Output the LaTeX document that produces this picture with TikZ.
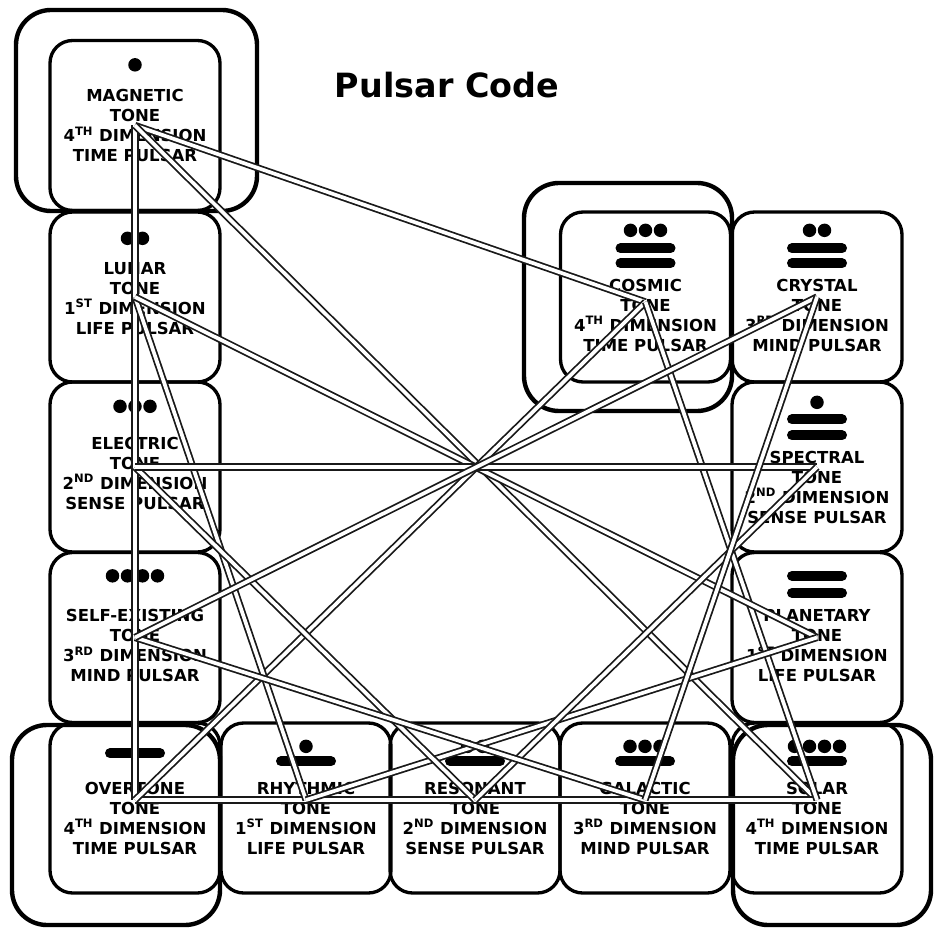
\documentclass[tikz,border=0pt]{standalone}
\usepackage{fontspec}
\setmainfont{DejaVu Sans}
\usepackage{tikz}
\tikzset{
    % One tone: a rounded square
    tonebox/.style={
        draw=black,
        line width=1.9pt,
        rounded corners=0.45cm,
        minimum width=3.4cm,
        minimum height=3.4cm,
        inner sep=0pt
    },
    % The large frame round the tones of the fourth dimension
    timeframe/.style={
        draw=black,
        line width=2.5pt,
        rounded corners=0.7cm
    },
    % The four lines of text of a tone
    tonetext/.style={
        align=center,
        inner sep=0pt,
        font=\fontsize{9.4}{11.4}\selectfont\bfseries
    },
    % A bar of the number
    numbar/.style={
        line width=0.2cm,
        line cap=round
    },
    % The double line between two tones of the same dimension
    pulsar/.style={
        draw=black!90,
        line width=1pt,
        double=white,
        double distance=2.1pt
    }
}

% dots of the number: box, how many, distance below the top
\newcommand{\tonedots}[3]{
    \foreach \d in {1,...,#2}
        \fill ([shift={({(\d-(#2+1)/2)*15},#3)}]#1.north) circle (0.135cm);
}
% one bar of the number: box, distance below the top
\newcommand{\tonebar}[2]{
    \draw[numbar] ([shift={(-25,#2)}]#1.north) -- ([shift={(25,#2)}]#1.north);
}

\begin{document}
\begin{tikzpicture}[x=0.02cm,y=-0.02cm]

    \useasboundingbox (0,0) rectangle (935,928);

    % --- 1. The thirteen tones ---
    % Left column, from the top
    \node[tonebox] (magnetic)     at (135,125.5) {};
    \node[tonebox] (lunar)        at (135,297)   {};
    \node[tonebox] (electric)     at (135,467)   {};
    \node[tonebox] (selfexisting) at (135,637.5) {};
    % Bottom row, from the left
    \node[tonebox] (overtone)     at (135,808)   {};
    \node[tonebox] (rhythmic)     at (306,808)   {};
    \node[tonebox] (resonant)     at (475,808)   {};
    \node[tonebox] (galactic)     at (645,808)   {};
    \node[tonebox] (solar)        at (817,808)   {};
    % Right column, going up
    \node[tonebox] (planetary)    at (817,637.5) {};
    \node[tonebox] (spectral)     at (817,467)   {};
    \node[tonebox] (crystal)      at (817,297)   {};
    \node[tonebox] (cosmic)       at (645.5,297) {};

    % Frames of the fourth dimension
    \draw[timeframe] (16,10) rectangle (257,211);
    \draw[timeframe] (524,183) rectangle (732,411);
    \draw[timeframe] (12,725) rectangle (220,925);
    \draw[timeframe] (733,725) rectangle (931,925);

    % --- 2. The numbers (dots and bars) ---
    \tonedots{magnetic}{1}{26}
    \tonedots{lunar}{2}{28}
    \tonedots{electric}{3}{26}
    \tonedots{selfexisting}{4}{25}
    \tonebar{overtone}{32}
    \tonedots{rhythmic}{1}{25} \tonebar{rhythmic}{40}
    \tonedots{resonant}{2}{25} \tonebar{resonant}{40}
    \tonedots{galactic}{3}{25} \tonebar{galactic}{40}
    \tonedots{solar}{4}{25}    \tonebar{solar}{40}
    \tonebar{planetary}{25}    \tonebar{planetary}{42}
    \tonedots{spectral}{1}{22} \tonebar{spectral}{39} \tonebar{spectral}{55}
    \tonedots{crystal}{2}{20}  \tonebar{crystal}{38}  \tonebar{crystal}{53}
    \tonedots{cosmic}{3}{20}   \tonebar{cosmic}{38}   \tonebar{cosmic}{53}

    % --- 3. The texts ---
    \node[tonetext] (magnetic-text) at ([shift={(0,87)}]magnetic.north)
        {MAGNETIC\\TONE\\4\textsuperscript{TH} DIMENSION\\TIME PULSAR};
    \node[tonetext] (lunar-text) at ([shift={(0,88)}]lunar.north)
        {LUNAR\\TONE\\1\textsuperscript{ST} DIMENSION\\LIFE PULSAR};
    \node[tonetext] (electric-text) at ([shift={(0,93)}]electric.north)
        {ELECTRIC\\TONE\\2\textsuperscript{ND} DIMENSION\\SENSE PULSAR};
    \node[tonetext] (selfexisting-text) at ([shift={(0,95)}]selfexisting.north)
        {SELF-EXISTING\\TONE\\3\textsuperscript{RD} DIMENSION\\MIND PULSAR};
    \node[tonetext] (overtone-text) at ([shift={(0,97)}]overtone.north)
        {OVERTONE\\TONE\\4\textsuperscript{TH} DIMENSION\\TIME PULSAR};
    \node[tonetext] (rhythmic-text) at ([shift={(0,97)}]rhythmic.north)
        {RHYTHMIC\\TONE\\1\textsuperscript{ST} DIMENSION\\LIFE PULSAR};
    \node[tonetext] (resonant-text) at ([shift={(0,97)}]resonant.north)
        {RESONANT\\TONE\\2\textsuperscript{ND} DIMENSION\\SENSE PULSAR};
    \node[tonetext] (galactic-text) at ([shift={(0,97)}]galactic.north)
        {GALACTIC\\TONE\\3\textsuperscript{RD} DIMENSION\\MIND PULSAR};
    \node[tonetext] (solar-text) at ([shift={(0,97)}]solar.north)
        {SOLAR\\TONE\\4\textsuperscript{TH} DIMENSION\\TIME PULSAR};
    \node[tonetext] (planetary-text) at ([shift={(0,95)}]planetary.north)
        {PLANETARY\\TONE\\1\textsuperscript{ST} DIMENSION\\LIFE PULSAR};
    \node[tonetext] (spectral-text) at ([shift={(0,107)}]spectral.north)
        {SPECTRAL\\TONE\\2\textsuperscript{ND} DIMENSION\\SENSE PULSAR};
    \node[tonetext] (crystal-text) at ([shift={(0,105)}]crystal.north)
        {CRYSTAL\\TONE\\3\textsuperscript{RD} DIMENSION\\MIND PULSAR};
    \node[tonetext] (cosmic-text) at ([shift={(0,105)}]cosmic.north)
        {COSMIC\\TONE\\4\textsuperscript{TH} DIMENSION\\TIME PULSAR};

    % Title
    \node[font=\fontsize{19}{23}\selectfont\bfseries] (title) at (447,85) {Pulsar Code};

    % --- 4. The pulsars ---
    % where the lines meet in each tone
    \foreach \t in {magnetic,lunar,electric,selfexisting,planetary,spectral,crystal}
        \coordinate (\t-hub) at (\t.center);
    \foreach \t in {overtone,rhythmic,resonant,galactic,solar}
        \coordinate (\t-hub) at ([yshift=0.16cm]\t.center);
    \coordinate (cosmic-hub) at ([yshift=-0.1cm]cosmic.center);

    \foreach \a/\b in {magnetic/overtone, magnetic/cosmic, magnetic/solar,
                       overtone/solar, overtone/cosmic, cosmic/solar,
                       lunar/rhythmic, lunar/planetary, rhythmic/planetary,
                       electric/resonant, electric/spectral, resonant/spectral,
                       selfexisting/galactic, selfexisting/crystal, galactic/crystal}
        \draw[pulsar] (\a-hub) -- (\b-hub);

\end{tikzpicture}
\end{document}
